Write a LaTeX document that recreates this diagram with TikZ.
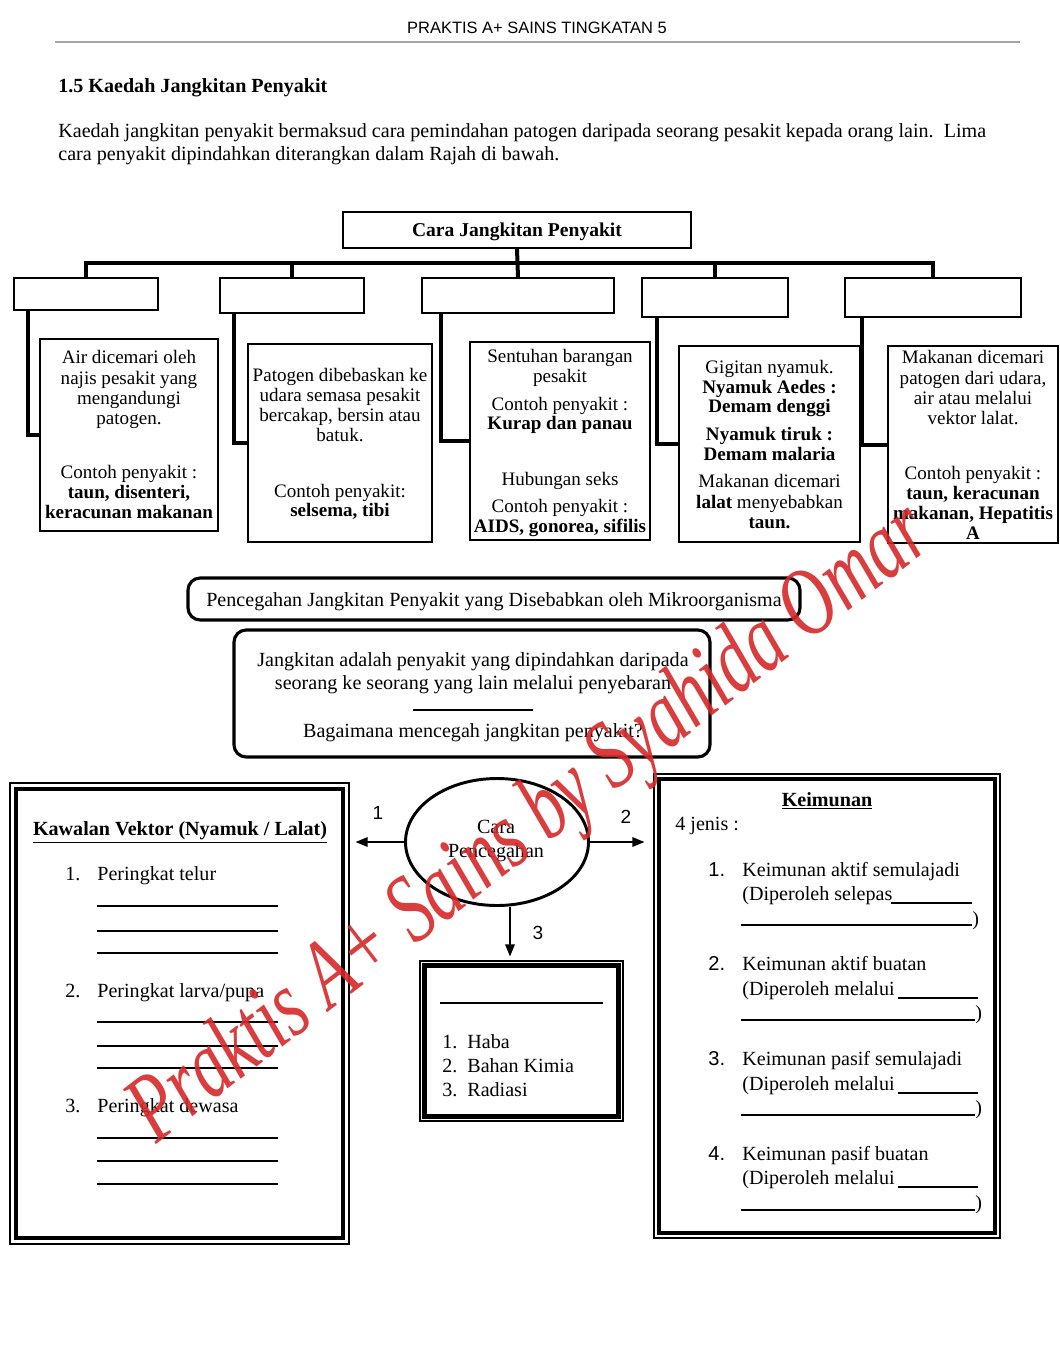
\documentclass[tikz,border=0pt]{standalone}
\usepackage{fontspec}
\setmainfont{Liberation Serif}
\setsansfont{Liberation Sans}
\usetikzlibrary{shapes.geometric,arrows.meta}
\newdimen\PX \PX=0.5774pt
\definecolor{wmred}{RGB}{214,40,40}
\begin{document}
\begin{tikzpicture}[x=0.5774pt,y=-0.5774pt,
  box/.style={draw, line width=0.8pt, inner sep=0pt},
  t12/.style={inner sep=0pt, font=\fontsize{11.6}{14}\selectfont, text height=9pt, text depth=0.8pt},
  t11/.style={inner sep=0pt, font=\fontsize{11}{13}\selectfont, text height=8.2pt, text depth=0.5pt},
  num/.style={inner sep=0pt, anchor=west, font=\sffamily\fontsize{11.6}{14}\selectfont, text height=9pt, text depth=0.8pt},
  lab/.style={inner sep=0pt, font=\sffamily\fontsize{11}{13}\selectfont},
  conn/.style={line width=2.3pt},
  arr/.style={line width=0.9pt, -{Triangle[length=7pt,width=5.5pt]}},
  rbox/.style={draw, line width=1.8pt, rounded corners=7pt, inner sep=0pt},
  outerbox/.style={draw, line width=0.6pt, inner sep=0pt},
  innerbox/.style={draw, line width=2.6pt, inner sep=0pt},
  blank/.style={line width=0.6pt}]
\useasboundingbox (0,0) rectangle (1060,1348);
\fill[white] (0,0) rectangle (1060,1348);

% header
\node[inner sep=0pt, font=\sffamily\fontsize{9.5}{11}\selectfont] (hdr) at (537,28) {PRAKTIS A+ SAINS TINGKATAN 5};
\draw[gray!70, line width=0.6pt] (55,42) -- (1020,42);

\node[t12, anchor=west, font=\fontsize{11.6}{14}\selectfont\bfseries] (sec) at (58,85) {1.5 Kaedah Jangkitan Penyakit};
\node[t12, anchor=west] (par1) at (58,130) {Kaedah jangkitan penyakit bermaksud cara pemindahan patogen daripada seorang pesakit kepada orang lain.\ \ Lima};
\node[t12, anchor=west] (par2) at (58,153) {cara penyakit dipindahkan diterangkan dalam Rajah di bawah.};

% tree
\node[box, minimum width=348\PX, minimum height=36\PX, font=\fontsize{11.3}{13}\selectfont\bfseries, text height=8.6pt, text depth=0.6pt] (t) at (517,230) {Cara Jangkitan Penyakit};
\node[box, minimum width=144\PX, minimum height=32\PX] (s1) at (86,294) {};
\node[box, minimum width=144\PX, minimum height=35\PX] (s2) at (292,295.5) {};
\node[box, minimum width=192\PX, minimum height=35\PX] (s3) at (518,295.5) {};
\node[box, minimum width=146\PX, minimum height=39\PX] (s4) at (715,297.5) {};
\node[box, minimum width=176\PX, minimum height=39\PX] (s5) at (933,297.5) {};

\node[box, minimum width=178\PX, minimum height=192\PX] (c1) at (129,435) {};
\node[box, minimum width=184\PX, minimum height=198\PX] (c2) at (340,443) {};
\node[box, minimum width=180\PX, minimum height=198\PX] (c3) at (560,441) {};
\node[box, minimum width=181\PX, minimum height=196\PX] (c4) at (769.5,444) {};
\node[box, minimum width=170\PX, minimum height=197\PX] (c5) at (973,444.5) {};

\coordinate (bar) at (0,263);
\draw[conn] (s1.north) -- (s1.north |- bar) -- (s5.north |- bar) -- (s5.north);
\draw[conn] (t.south) -- (s3.north);
\draw[conn] (s2.north) -- (s2.north |- bar);
\draw[conn] (s4.north) -- (s4.north |- bar);

\draw[conn] ([xshift=15\PX]s1.south west) |- (c1.west);
\draw[conn] ([xshift=15\PX]s2.south west) |- (c2.west);
\draw[conn] ([xshift=20\PX]s3.south west) |- (c3.west);
\draw[conn] ([xshift=16\PX]s4.south west) |- (c4.west);
\draw[conn] ([xshift=18\PX]s5.south west) |- (c5.west);

\foreach \yy/\txt [count=\i] in {357/Air dicemari oleh, 378/najis pesakit yang, 398/mengandungi, 418/patogen., 472/Contoh penyakit :, {492/\textbf{taun, disenteri,}}, 512/\textbf{keracunan makanan}}
  \node[t11] (a\i) at (129,\yy) {\txt};
\foreach \yy/\txt [count=\i] in {375/Patogen dibebaskan ke, 395/udara semasa pesakit, {415/bercakap, bersin atau}, 435/batuk., 491/Contoh penyakit:, {510/\textbf{selsema, tibi}}}
  \node[t11] (b\i) at (340,\yy) {\txt};
\foreach \yy/\txt [count=\i] in {356/Sentuhan barangan, 376/pesakit, 404/Contoh penyakit :, 423/\textbf{Kurap dan panau}, 479/Hubungan seks, 506/Contoh penyakit :, {526/\textbf{AIDS, gonorea, sifilis}}}
  \node[t11] (d\i) at (560,\yy) {\txt};
\foreach \yy/\txt [count=\i] in {367/Gigitan nyamuk., 387/\textbf{Nyamuk Aedes :}, 406/\textbf{Demam denggi}, 434/\textbf{Nyamuk tiruk :}, 454/\textbf{Demam malaria}, 481/Makanan dicemari, 502/\textbf{lalat} menyebabkan, 522/\textbf{taun.}}
  \node[t11] (e\i) at (769.5,\yy) {\txt};
\foreach \yy/\txt [count=\i] in {357/Makanan dicemari, {378/patogen dari udara,}, 398/air atau melalui, 418/vektor lalat., 473/Contoh penyakit :, {493/\textbf{taun, keracunan}}, {513/\textbf{makanan, Hepatitis}}, 533/\textbf{A}}
  \node[t11] (f\i) at (973,\yy) {\txt};

% middle
\node[rbox, minimum width=612\PX, minimum height=42\PX] (p1) at (494,599) {};
\node[t12] (p1t) at (494,599) {Pencegahan Jangkitan Penyakit yang Disebabkan oleh Mikroorganisma};
\node[rbox, minimum width=476\PX, minimum height=127\PX] (p2) at (472,693.5) {};
\node[t12] (p2a) at (473,659) {Jangkitan adalah penyakit yang dipindahkan daripada};
\node[t12] (p2b) at (473,682) {seorang ke seorang yang lain melalui penyebaran};
\draw[blank] (413,710) -- (533,710);
\node[t12] (p2c) at (473,730) {Bagaimana mencegah jangkitan penyakit?};

% ellipse
\node[ellipse, draw, line width=1.7pt, minimum width=183\PX, minimum height=127\PX] (cp) at (497,842) {};
\node[t12] (cpa) at (496,826) {Cara};
\node[t12] (cpb) at (496,850) {Pencegahan};

% left box
\node[outerbox, minimum width=339\PX, minimum height=461\PX] (kv) at (179.5,1013.5) {};
\node[innerbox, minimum width=327\PX, minimum height=449\PX] (kvi) at (179.5,1013.5) {};
\node[t12, font=\fontsize{11.6}{14}\selectfont\bfseries] (kvt) at (180,828) {\underline{Kawalan Vektor (Nyamuk / Lalat)}};
\node[t12, anchor=west] (kv1n) at (65,873) {1.};
\node[t12, anchor=west] (kv1) at (97,873) {Peringkat telur};
\node[t12, anchor=west] (kv2n) at (65,990) {2.};
\node[t12, anchor=west] (kv2) at (97,990) {Peringkat larva/pupa};
\node[t12, anchor=west] (kv3n) at (65,1105) {3.};
\node[t12, anchor=west] (kv3) at (97,1105) {Peringkat dewasa};
\foreach \yy in {906,931,953,1022,1046,1068,1138,1161,1184}
  \draw[blank] (97,\yy) -- (278,\yy);

% heat box
\node[outerbox, minimum width=203\PX, minimum height=160\PX] (hb) at (521.5,1041) {};
\node[innerbox, minimum width=194\PX, minimum height=151\PX] (hbi) at (521.5,1041) {};
\draw[blank] (440,1003) -- (603,1003);
\node[t12, anchor=west] (h1n) at (442,1041) {1.};
\node[t12, anchor=west] (h1) at (467,1041) {Haba};
\node[t12, anchor=west] (h2n) at (442,1065) {2.};
\node[t12, anchor=west] (h2) at (467,1065) {Bahan Kimia};
\node[t12, anchor=west] (h3n) at (442,1089) {3.};
\node[t12, anchor=west] (h3) at (467,1089) {Radiasi};

% right box
\node[outerbox, minimum width=346\PX, minimum height=464\PX] (km) at (827,1006) {};
\node[innerbox, minimum width=336\PX, minimum height=454\PX] (kmi) at (827,1006) {};
\node[t12, font=\fontsize{11.6}{14}\selectfont\bfseries] (kmt) at (827,799) {\underline{Keimunan}};
\node[t12, anchor=west] (kmj) at (675,823) {4 jenis :};

\node[num] (k1n) at (708,869) {1.};
\node[t12, anchor=west] (k1a) at (742,869) {Keimunan aktif semulajadi};
\node[t12, anchor=west] (k1b) at (742,893) {(Diperoleh selepas};
\draw[blank] (891,903) -- (972,903);
\draw[blank] (741,925) -- (972,925);
\node[t12, anchor=west] (k1c) at (972,918) {)};

\node[num] (k2n) at (708,963) {2.};
\node[t12, anchor=west] (k2a) at (742,963) {Keimunan aktif buatan};
\node[t12, anchor=west] (k2b) at (742,988) {(Diperoleh melalui};
\draw[blank] (898,998) -- (978,998);
\draw[blank] (741,1020) -- (975,1020);
\node[t12, anchor=west] (k2c) at (975,1012) {)};

\node[num] (k3n) at (708,1058) {3.};
\node[t12, anchor=west] (k3a) at (742,1058) {Keimunan pasif semulajadi};
\node[t12, anchor=west] (k3b) at (742,1083) {(Diperoleh melalui};
\draw[blank] (898,1093) -- (978,1093);
\draw[blank] (741,1115) -- (975,1115);
\node[t12, anchor=west] (k3c) at (975,1107) {)};

\node[num] (k4n) at (708,1153) {4.};
\node[t12, anchor=west] (k4a) at (742,1153) {Keimunan pasif buatan};
\node[t12, anchor=west] (k4b) at (742,1177) {(Diperoleh melalui};
\draw[blank] (898,1187) -- (978,1187);
\draw[blank] (741,1210) -- (975,1210);
\node[t12, anchor=west] (k4c) at (975,1202) {)};

% arrows
\draw[arr, shorten >=6\PX] (cp.west) -- (cp.west -| kv.east);
\draw[arr, shorten >=9\PX] (cp.east) -- (cp.east -| km.west);
\draw[arr, shorten >=4\PX] ([xshift=13\PX]cp.south) -- ([xshift=13\PX]cp.south |- hb.north);
\node[lab] (l1) at (378,813) {1};
\node[lab] (l2) at (626,817) {2};
\node[lab] (l3) at (538,933) {3};

% watermark
\node[text=wmred, opacity=0.9, inner sep=0pt, rotate=37.6, xscale=0.72, font=\fontsize{56}{60}\selectfont\itshape] (wm) at (532,826) {Praktis A+ Sains by Syahida Omar};
\end{tikzpicture}
\end{document}
